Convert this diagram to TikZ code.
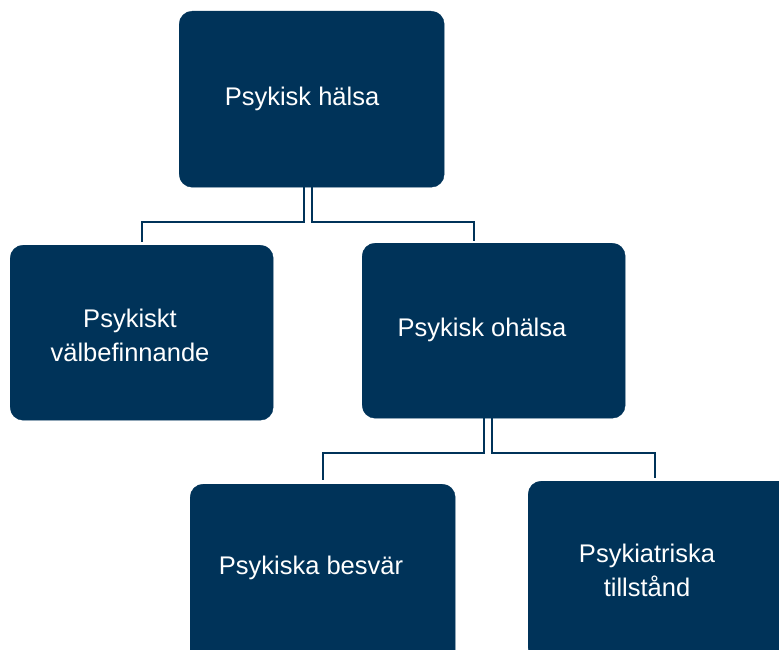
\documentclass[tikz,border=0pt]{standalone}
\usepackage{fontspec}
\setmainfont{Liberation Sans}
\definecolor{navy}{RGB}{0,51,89}
\begin{document}
\begin{tikzpicture}[x=1pt,y=-1pt,
  box/.style={draw=navy,fill=navy,rounded corners=13pt,anchor=north west,inner sep=0pt},
  lbl/.style={text=white,font=\fontsize{25.5}{34}\selectfont,align=center,inner sep=0pt},
  conn/.style={draw=navy,line width=2pt}]
\useasboundingbox (0,0) rectangle (779,650);
\clip (0,0) rectangle (779,650);
\node[box,minimum width=265pt,minimum height=176pt] (hal) at (179,11) {};
\node[box,minimum width=263pt,minimum height=175pt] (vb) at (10,245) {};
\node[box,minimum width=263pt,minimum height=175pt] (oh) at (362,243) {};
\node[box,minimum width=265pt,minimum height=180pt] (bes) at (190,484) {};
\node[box,minimum width=265pt,minimum height=180pt] (til) at (528,481) {};
\node[lbl] (thal) at (302,99) {Psykisk hälsa};
\node[lbl] (tvb) at (130,335) {Psykiskt\\välbefinnande};
\node[lbl] (toh) at (482,330) {Psykisk ohälsa};
\node[lbl] (tbes) at (311,568) {Psykiska besvär};
\node[lbl] (ttil) at (647,570) {Psykiatriska\\tillstånd};
\coordinate (j1) at (304,222);
\coordinate (j2) at (312,222);
\coordinate (e1) at (142,242);
\coordinate (e2) at (474,241);
\draw[conn] (hal.south -| j1) -- (j1) -- (j1 -| e1) -- (e1);
\draw[conn] (hal.south -| j2) -- (j2) -- (j2 -| e2) -- (e2);
\coordinate (k1) at (484,453);
\coordinate (k2) at (492,453);
\coordinate (f1) at (323,480);
\coordinate (f2) at (655,478);
\draw[conn] (oh.south -| k1) -- (k1) -- (k1 -| f1) -- (f1);
\draw[conn] (oh.south -| k2) -- (k2) -- (k2 -| f2) -- (f2);
\end{tikzpicture}
\end{document}
